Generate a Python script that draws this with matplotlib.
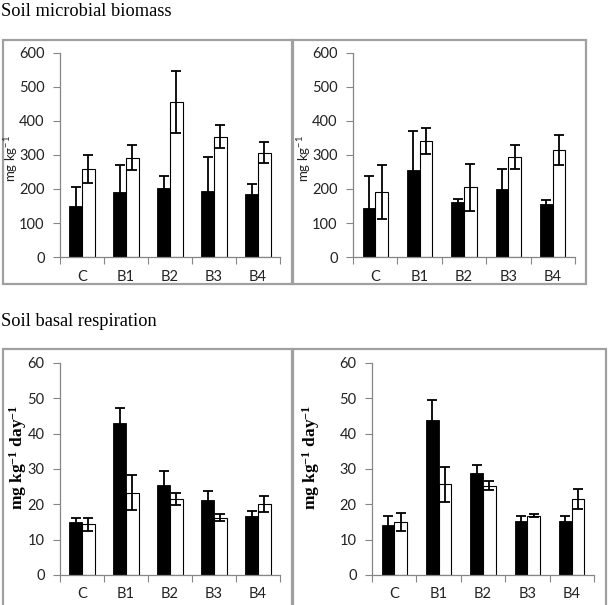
import numpy as np
import matplotlib.pyplot as plt
from matplotlib.patches import Rectangle

# data
categories = ['C', 'B1', 'B2', 'B3', 'B4']

biomass_left_black = [150, 190, 203, 194, 184]
biomass_left_black_err = [55, 80, 35, 99, 30]
biomass_left_white = [259, 292, 455, 354, 307]
biomass_left_white_err = [41, 37, 91, 34, 30]

biomass_right_black = [145, 256, 162, 199, 156]
biomass_right_black_err = [94, 115, 10, 59, 13]
biomass_right_white = [192, 341, 205, 294, 315]
biomass_right_white_err = [79, 38, 69, 35, 45]

resp_left_black = [14.9, 43.0, 25.6, 21.3, 16.6]
resp_left_black_err = [1.1, 4.2, 3.8, 2.6, 1.6]
resp_left_white = [14.3, 23.3, 21.5, 16.2, 20.0]
resp_left_white_err = [1.8, 5.0, 1.6, 1.0, 2.3]

resp_right_black = [14.1, 44.0, 29.0, 15.3, 15.3]
resp_right_black_err = [2.5, 5.4, 2.0, 1.5, 1.3]
resp_right_white = [15.0, 25.7, 25.3, 16.8, 21.5]
resp_right_white_err = [2.6, 5.0, 1.2, 0.4, 2.8]

plt.rcParams['mathtext.default'] = 'regular'

W, H = 608, 605
fig = plt.figure(figsize=(W / 100, H / 100), dpi=100)

tick_font = 'Lato'
serif = 'Liberation Serif'
axis_gray = '#868686'
box_gray = '#a0a0a0'


def px_axes(x0, y_top, x1, y_bot):
    return fig.add_axes([x0 / W, 1 - y_bot / H, (x1 - x0) / W, (y_bot - y_top) / H])


def box(x0, y0, x1, y1):
    fig.patches.append(Rectangle((x0 / W, 1 - y1 / H), (x1 - x0) / W, (y1 - y0) / H,
                                 transform=fig.transFigure, fill=False,
                                 edgecolor=box_gray, lw=1.6))


def panel(ax, black, black_err, white, white_err, ymax, ystep):
    x = np.arange(len(categories))
    bw = 0.285
    ax.bar(x - bw / 2, black, bw, color='black', edgecolor='black', lw=0.6)
    ax.bar(x + bw / 2, white, bw, color='white', edgecolor='black', lw=0.8)
    ax.errorbar(x - bw / 2, black, yerr=black_err, fmt='none', ecolor='black',
                elinewidth=1.3, capsize=3.5, capthick=1.3)
    ax.errorbar(x + bw / 2, white, yerr=white_err, fmt='none', ecolor='black',
                elinewidth=1.3, capsize=3.5, capthick=1.3)
    ax.set_xlim(-0.5, len(categories) - 0.5)
    ax.set_ylim(0, ymax)
    ax.set_yticks(np.arange(0, ymax + 1, ystep))
    ax.set_xticks(np.arange(-0.5, len(categories)))
    ax.set_xticklabels([])
    ax.set_xticks(x, minor=True)
    ax.set_xticklabels(categories, minor=True, fontfamily=tick_font, fontsize=10.5, color='#222222')
    for lab in ax.get_yticklabels():
        lab.set_fontfamily(tick_font)
        lab.set_fontsize(10.5)
        lab.set_color('#222222')
    ax.tick_params(axis='x', which='major', length=5, color=axis_gray, direction='out')
    ax.tick_params(axis='x', which='minor', length=0, pad=9)
    ax.tick_params(axis='y', length=5, color=axis_gray, direction='out', pad=6)
    for s in ['top', 'right']:
        ax.spines[s].set_visible(False)
    for s in ['left', 'bottom']:
        ax.spines[s].set_color(axis_gray)
        ax.spines[s].set_linewidth(0.9)
    ax.set_facecolor('none')


# outer boxes
box(3, 40, 292, 284)
box(293, 40, 586, 284)
box(3, 349, 292, 620)
box(293, 349, 606, 620)

fig.text(1 / W, 1 - 12 / H, 'Soil microbial biomass', fontfamily=serif,
         fontsize=13.2, va='center', ha='left')
fig.text(1 / W, 1 - 321 / H, 'Soil basal respiration', fontfamily=serif,
         fontsize=13.2, va='center', ha='left')

ax1 = px_axes(60, 53, 280, 257)
panel(ax1, biomass_left_black, biomass_left_black_err, biomass_left_white,
      biomass_left_white_err, 600, 100)
ax2 = px_axes(353, 53, 575, 257)
panel(ax2, biomass_right_black, biomass_right_black_err, biomass_right_white,
      biomass_right_white_err, 600, 100)
ax3 = px_axes(60, 363, 280, 575)
panel(ax3, resp_left_black, resp_left_black_err, resp_left_white,
      resp_left_white_err, 60, 10)
ax4 = px_axes(372, 363, 594, 575)
panel(ax4, resp_right_black, resp_right_black_err, resp_right_white,
      resp_right_white_err, 60, 10)

# y axis labels
fig.text(11 / W, 1 - 158 / H, 'mg kg$^{-1}$', rotation=90, fontfamily=tick_font,
         fontsize=9.5, va='center', ha='center', color='#222222')
fig.text(304 / W, 1 - 158 / H, 'mg kg$^{-1}$', rotation=90, fontfamily=tick_font,
         fontsize=9.5, va='center', ha='center', color='#222222')
fig.text(18 / W, 1 - 457 / H, 'mg kg$^{-1}$ day$^{-1}$', rotation=90, fontfamily=serif,
         fontweight='bold', fontsize=12.5, va='center', ha='center')
fig.text(311 / W, 1 - 457 / H, 'mg kg$^{-1}$ day$^{-1}$', rotation=90, fontfamily=serif,
         fontweight='bold', fontsize=12.5, va='center', ha='center')

fig.savefig('out.png', dpi=100)
